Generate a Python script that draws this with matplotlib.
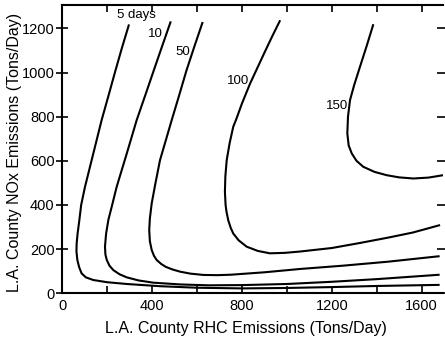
import matplotlib
matplotlib.use("Agg")
import matplotlib.pyplot as plt
from matplotlib.ticker import MultipleLocator

# Isopleth curves (RHC tons/day, NOx tons/day)
c5_x = [297, 265, 235, 205, 175, 138, 101, 84, 76, 68, 64, 63, 67, 75, 86, 105, 138, 200, 287, 435, 600, 800, 1000, 1200, 1400, 1680]
c5_y = [1218, 1110, 1003, 893, 784, 633, 482, 400, 332, 270, 226, 190, 151, 118, 90, 72, 60, 50, 42, 32, 25, 22, 24, 28, 33, 38]

c10_x = [483, 444, 405, 368, 331, 287, 242, 222, 205, 195, 190, 192, 198, 210, 227, 255, 287, 340, 405, 524, 650, 800, 1000, 1200, 1400, 1680]
c10_y = [1232, 1118, 1003, 893, 784, 633, 482, 400, 332, 270, 211, 175, 151, 125, 105, 86, 72, 58, 48, 40, 36, 37, 42, 52, 64, 84]

c50_x = [625, 588, 553, 520, 487, 460, 435, 415, 398, 390, 387, 390, 398, 408, 420, 440, 460, 490, 524, 570, 628, 690, 750, 900, 1058, 1250, 1450, 1680]
c50_y = [1229, 1118, 1010, 896, 784, 690, 603, 500, 407, 340, 286, 235, 196, 170, 151, 133, 120, 108, 98, 89, 83, 82, 84, 95, 110, 125, 143, 168]

c100_x = [970, 935, 900, 868, 836, 800, 775, 761, 745, 732, 726, 724, 727, 731, 739, 750, 761, 785, 821, 870, 924, 990, 1058, 1200, 1326, 1450, 1560, 1682]
c100_y = [1237, 1165, 1090, 1020, 950, 860, 790, 754, 680, 603, 530, 460, 400, 370, 330, 296, 271, 240, 211, 192, 181, 183, 189, 205, 228, 252, 275, 309]

c150_x = [1385, 1355, 1325, 1300, 1281, 1272, 1269, 1275, 1289, 1310, 1340, 1390, 1444, 1500, 1563, 1630, 1696]
c150_y = [1219, 1120, 1025, 945, 875, 800, 724, 670, 633, 600, 573, 550, 535, 525, 520, 524, 535]

curve_labels = ["5 days", "10", "50", "100", "150"]
label_x = [329, 413, 537, 784, 1222]
label_y = [1262, 1176, 1093, 961, 848]

x_ticks = [0, 400, 800, 1200, 1600]
y_ticks = [0, 200, 400, 600, 800, 1000, 1200]

FONT = ['Liberation Sans', 'DejaVu Sans']

fig = plt.figure(figsize=(4.45, 3.41), dpi=100)
ax = fig.add_axes([0.140, 0.140, 0.9955 - 0.140, 0.9853 - 0.140])

for xs, ys in [(c5_x, c5_y), (c10_x, c10_y), (c50_x, c50_y), (c100_x, c100_y), (c150_x, c150_y)]:
    ax.plot(xs, ys, color='black', lw=1.5, solid_capstyle='butt', solid_joinstyle='round')

for t, x, y in zip(curve_labels, label_x, label_y):
    ax.text(x, y, t, ha='center', va='center', fontsize=9.5, family=FONT)

ax.set_xlim(0, 1695)
ax.set_ylim(0, 1306)
ax.set_xticks(x_ticks)
ax.xaxis.set_minor_locator(MultipleLocator(200))
ax.set_yticks(y_ticks)

for lab in ax.get_xticklabels() + ax.get_yticklabels():
    lab.set_family(FONT)
    lab.set_fontsize(10.5)

ax.tick_params(axis='x', which='both', direction='in', top=True, length=5, width=1.2, pad=4)
ax.tick_params(axis='y', which='both', direction='inout', right=True, length=9, width=1.2, pad=1)
ax.spines['right'].set_visible(False)
for s in ['left', 'bottom', 'top']:
    ax.spines[s].set_linewidth(1.5)

ax.set_xlabel("L.A. County RHC Emissions (Tons/Day)", fontsize=11.5, family=FONT)
ax.set_ylabel("L.A. County NOx Emissions (Tons/Day)", fontsize=11.5, family=FONT)
ax.xaxis.set_label_coords(0.483, -0.095)
ax.yaxis.set_label_coords(-0.106, 0.49)

fig.savefig("out.png", dpi=100)
